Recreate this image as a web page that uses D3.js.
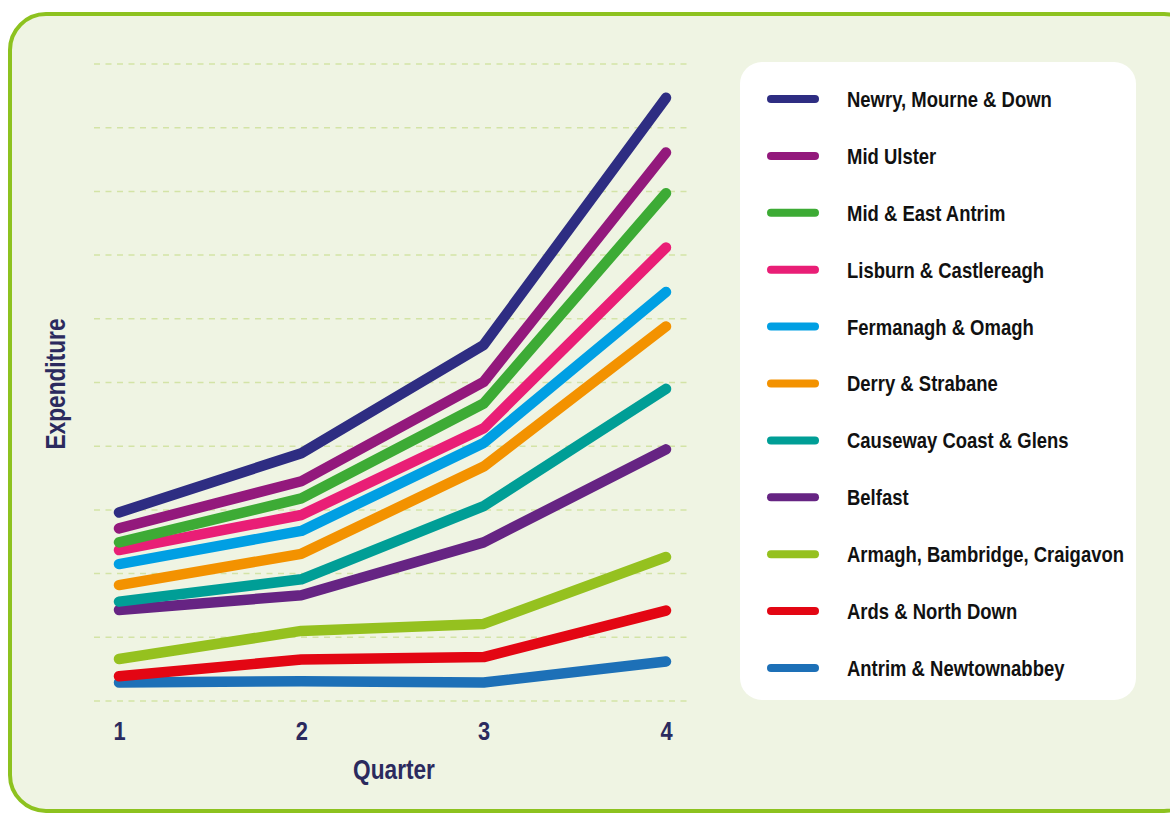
<!DOCTYPE html>
<html>
<head>
<meta charset="utf-8">
<script src="https://cdn.jsdelivr.net/npm/d3@7"></script>
<style>
  body { margin: 0; background: #fff; }
  text { font-family: "Liberation Sans", Arial, sans-serif; font-weight: bold; }
</style>
</head>
<body>
<script>
// Data (units = gridline steps)
var quarters = [1, 2, 3, 4];
var councils = ["Newry, Mourne & Down", "Mid Ulster", "Mid & East Antrim", "Lisburn & Castlereagh",
  "Fermanagh & Omagh", "Derry & Strabane", "Causeway Coast & Glens", "Belfast",
  "Armagh, Bambridge, Craigavon", "Ards & North Down", "Antrim & Newtownabbey"];
var colors = ["#2e2d82", "#93197c", "#3dab35", "#e91e76", "#009fe3", "#f39200",
  "#009e96", "#662483", "#95c11f", "#e30613", "#1d70b7"];
var values = [
  [2.96, 3.89, 5.59, 9.47],
  [2.71, 3.45, 5.01, 8.61],
  [2.49, 3.18, 4.67, 7.97],
  [2.37, 2.92, 4.28, 7.12],
  [2.15, 2.67, 4.05, 6.42],
  [1.82, 2.31, 3.68, 5.88],
  [1.56, 1.91, 3.06, 4.90],
  [1.43, 1.66, 2.49, 3.95],
  [0.66, 1.10, 1.21, 2.26],
  [0.39, 0.65, 0.69, 1.42],
  [0.29, 0.31, 0.29, 0.62]
];
var gridValues = d3.range(0, 11);

var W = 1170, H = 815;
var narrow = 0.84; // fake the condensed face

var svg = d3.select("body").append("svg")
  .attr("width", W)
  .attr("height", H);

// outer panel
svg.append("rect")
  .attr("x", 10).attr("y", 14)
  .attr("width", 1190).attr("height", 797)
  .attr("rx", 36).attr("ry", 36)
  .attr("fill", "#eff4e3")
  .attr("stroke", "#8dc21f")
  .attr("stroke-width", 4);

var x = d3.scalePoint()
  .domain(quarters)
  .range([119, 666]);

var y = d3.scaleLinear()
  .domain([0, 10])
  .range([701, 64]);

// gridlines
svg.append("g")
  .selectAll("line")
  .data(gridValues)
  .enter()
  .append("line")
    .attr("x1", 94).attr("x2", 690)
    .attr("y1", function(d) { return y(d); })
    .attr("y2", function(d) { return y(d); })
    .attr("stroke", "#d3e3a6")
    .attr("stroke-width", 1.5)
    .attr("stroke-dasharray", "6,5.5");

// x axis
var xAxis = svg.append("g")
  .attr("transform", "translate(0,731)")
  .call(d3.axisBottom(x).tickSize(0).tickPadding(0));
xAxis.select(".domain").remove();
xAxis.selectAll("text")
  .attr("dy", "0.36em")
  .attr("transform", "scale(" + narrow + ",1)")
  .attr("fill", "#2b2a5e")
  .style("font-size", "26px");

svg.append("text")
  .attr("transform", "translate(394,779) scale(" + narrow + ",1)")
  .attr("text-anchor", "middle")
  .attr("fill", "#2b2a5e")
  .style("font-size", "27px")
  .text("Quarter");

svg.append("text")
  .attr("transform", "translate(65,384) rotate(-90) scale(" + narrow + ",1)")
  .attr("text-anchor", "middle")
  .attr("fill", "#2b2a5e")
  .style("font-size", "27px")
  .text("Expenditure");

// lines
var line = d3.line()
  .x(function(d, i) { return x(quarters[i]); })
  .y(function(d) { return y(d); });

svg.append("g")
  .selectAll("path")
  .data(values.slice().reverse())
  .enter()
  .append("path")
    .attr("d", line)
    .attr("fill", "none")
    .attr("stroke", function(d, i) { return colors[colors.length - 1 - i]; })
    .attr("stroke-width", 10.5)
    .attr("stroke-linecap", "round")
    .attr("stroke-linejoin", "round");

// legend
svg.append("rect")
  .attr("x", 740).attr("y", 62)
  .attr("width", 396).attr("height", 638)
  .attr("rx", 22).attr("ry", 22)
  .attr("fill", "#fff");

var ly = d3.scalePoint()
  .domain(councils)
  .range([99, 668]);

var item = svg.append("g")
  .selectAll("g")
  .data(councils)
  .enter()
  .append("g")
    .attr("transform", function(d) { return "translate(0," + ly(d) + ")"; });

item.append("line")
  .attr("x1", 771).attr("x2", 815)
  .attr("stroke", function(d, i) { return colors[i]; })
  .attr("stroke-width", 8)
  .attr("stroke-linecap", "round");

item.append("text")
  .attr("transform", "translate(847,0) scale(0.84,1)")
  .attr("dy", "0.36em")
  .attr("fill", "#111")
  .style("font-size", "22px")
  .text(function(d) { return d; });
</script>
</body>
</html>
